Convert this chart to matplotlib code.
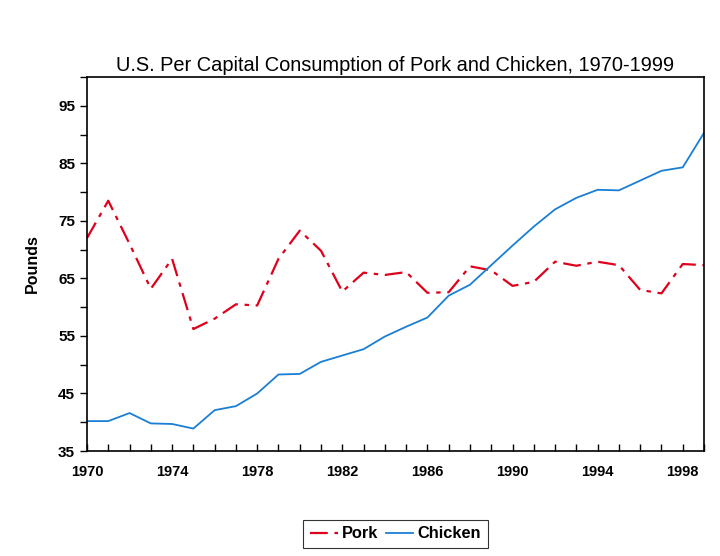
import numpy as np
import matplotlib
matplotlib.use('Agg')
import matplotlib.pyplot as plt

plt.rcParams['font.family'] = ['Liberation Sans', 'DejaVu Sans']

# valores
anios = list(range(1970, 2000))
cerdo = [72.0, 78.5, 71.0, 63.2, 68.4, 56.2, 58.0, 60.5, 60.3, 68.4,
         73.3, 69.8, 62.7, 66.0, 65.6, 66.1, 62.5, 62.6, 67.1, 66.4,
         63.7, 64.4, 67.9, 67.2, 67.9, 67.3, 63.0, 62.4, 67.5, 67.3]
pollo = [40.2, 40.2, 41.6, 39.8, 39.7, 38.9, 42.1, 42.8, 45.0, 48.3,
         48.4, 50.5, 51.6, 52.7, 54.9, 56.6, 58.2, 62.0, 63.9, 67.3,
         70.7, 74.0, 77.0, 79.0, 80.4, 80.3, 82.0, 83.7, 84.3, 90.3]
etiquetas_x = [1970, 1974, 1978, 1982, 1986, 1990, 1994, 1998]
etiquetas_y = [35, 45, 55, 65, 75, 85, 95]

fig = plt.figure(figsize=(7.2, 5.56), dpi=100)
ax = fig.add_axes([0.1208, 0.1888, 0.857, 0.6727])

ax.plot(anios, cerdo, color='#e0001b', lw=1.6, ls=(0, (8, 3, 2, 3)), label='Pork')
ax.plot(anios, pollo, color='#1a7fd4', lw=1.3, label='Chicken')

ax.set_xlim(1970, 1999)
ax.set_ylim(35, 100)
ax.set_xticks(anios)
ax.set_xticklabels([str(a) if a in etiquetas_x else '' for a in anios])
ax.set_yticks(range(35, 101, 5))
ax.set_yticklabels([str(v) if v in etiquetas_y else '' for v in range(35, 101, 5)])
ax.tick_params(axis='x', direction='in', length=5, width=1, labelsize=10.5, pad=10)
ax.tick_params(axis='y', direction='out', length=5, width=1, labelsize=11)
for lab in ax.get_xticklabels() + ax.get_yticklabels():
    lab.set_fontweight('bold')
for s in ax.spines.values():
    s.set_linewidth(1.2)

ax.set_ylabel('Pounds', fontsize=11.5, fontweight='bold', labelpad=13)
ax.set_title('U.S. Per Capital Consumption of Pork and Chicken, 1970-1999', fontsize=14.4, pad=4)

leg = ax.legend(loc='upper center', bbox_to_anchor=(0.5, -0.184), ncol=2, fancybox=False,
                edgecolor='black', prop={'weight': 'bold', 'size': 11.8},
                handlelength=1.7, columnspacing=0.45, handletextpad=0.25, borderpad=0.4,
                borderaxespad=0)
leg.get_frame().set_linewidth(0.8)

plt.savefig('out.png', dpi=100)
